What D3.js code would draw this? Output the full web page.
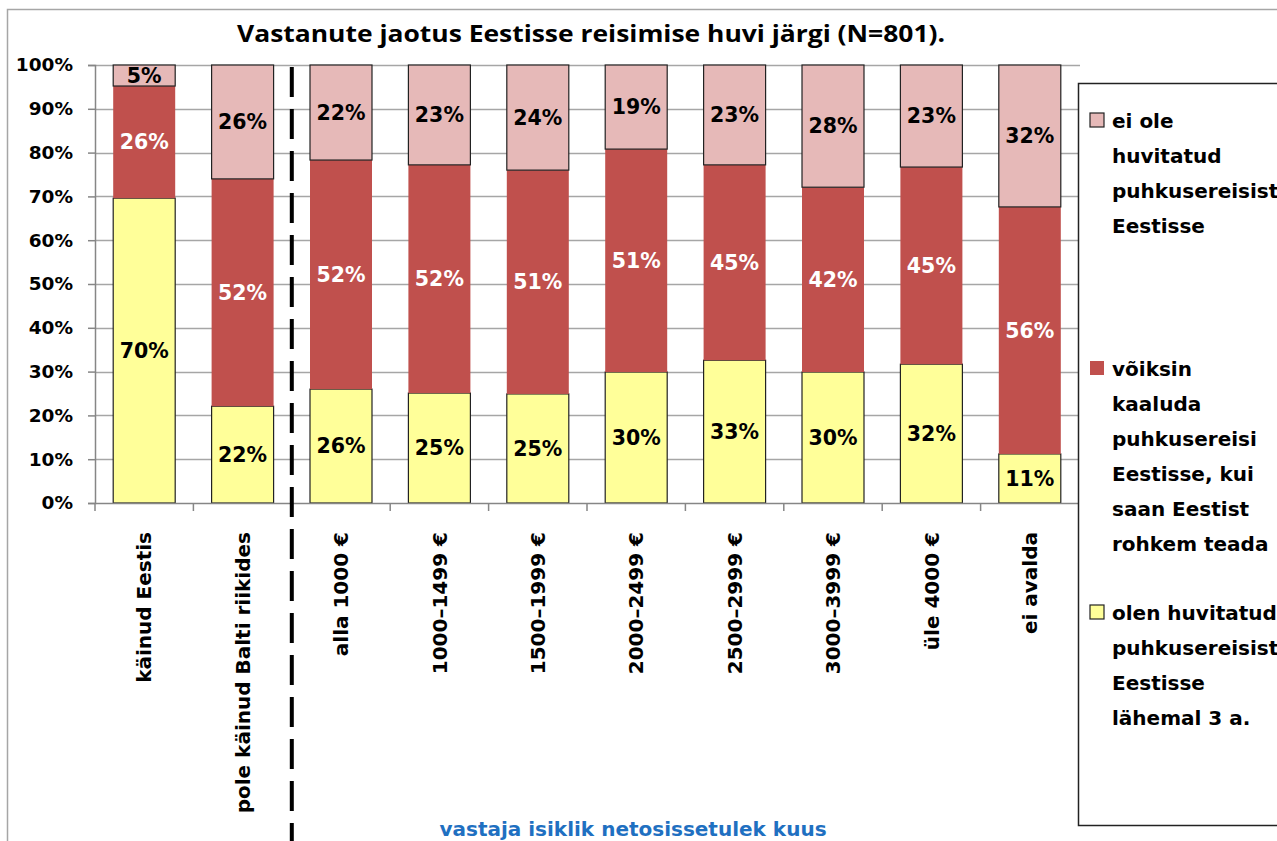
<!DOCTYPE html>
<html>
<meta charset="utf-8">
<head>
	<script src="https://d3js.org/d3.v7.min.js"></script>
	<style>
		body { margin: 0; background: #fff; }
		text { font-family: "DejaVu Sans", Verdana, sans-serif; font-weight: bold; }
	</style>
</head>
<body>
<script>
	var categories = ["käinud Eestis", "pole käinud Balti riikides", "alla 1000 €", "1000–1499 €",
		"1500–1999 €", "2000–2499 €", "2500–2999 €", "3000–3999 €", "üle 4000 €", "ei avalda"];

	// bottom to top
	var huvitatud = [69.6, 22.1, 26.0, 25.1, 24.9, 29.9, 32.6, 29.9, 31.7, 11.2];
	var kaaluks   = [25.6, 51.9, 52.3, 52.1, 51.1, 50.9, 44.6, 42.2, 45.0, 56.4];
	var eiOle     = [4.8, 26.0, 21.7, 22.8, 24.0, 19.2, 22.8, 27.9, 23.3, 32.4];

	var legendLines = [
		["ei ole", "huvitatud", "puhkusereisist", "Eestisse"],
		["võiksin", "kaaluda", "puhkusereisi", "Eestisse, kui", "saan Eestist", "rohkem teada"],
		["olen huvitatud", "puhkusereisist", "Eestisse", "lähemal 3 a."]
	];
	var yTicks = [0, 10, 20, 30, 40, 50, 60, 70, 80, 90, 100];

	var colors = ["#FFFF99", "#C0504D", "#E6B9B8"];
	var labelColors = ["#000", "#fff", "#000"];

	var width = 1277, height = 841;
	var svg = d3.select("body").append("svg").attr("width", width).attr("height", height);

	// outer chart border
	svg.append("rect").attr("x", 7.5).attr("y", 9.5).attr("width", 1300).attr("height", 900)
		.attr("fill", "none").attr("stroke", "#a6a6a6").attr("stroke-width", 1.5);

	var x = d3.scaleBand().domain(categories).range([95, 1079]).paddingInner(0.37).paddingOuter(0.185);
	var y = d3.scaleLinear().domain([0, 100]).range([503, 65]);

	// gridlines
	svg.append("g").selectAll("line").data(yTicks.slice(1)).enter().append("line")
		.attr("x1", 95).attr("x2", 1080)
		.attr("y1", function(d) { return Math.round(y(d)) + 0.5; })
		.attr("y2", function(d) { return Math.round(y(d)) + 0.5; })
		.attr("stroke", "#a6a6a6").attr("stroke-width", 1.5);

	// stacked data
	var rows = categories.map(function(c, i) {
		return { cat: c, s0: huvitatud[i], s1: kaaluks[i], s2: eiOle[i] };
	});
	var stack = d3.stack().keys(["s0", "s1", "s2"])(rows);

	var layers = svg.append("g").selectAll("g").data(stack).enter().append("g");
	layers.selectAll("rect").data(function(d) { return d; }).enter().append("rect")
		.attr("x", function(d) { return x(d.data.cat); })
		.attr("width", x.bandwidth())
		.attr("y", function(d) { return y(d[1]); })
		.attr("height", function(d) { return y(d[0]) - y(d[1]); })
		.attr("fill", function() { return colors[d3.select(this.parentNode).datum().index]; })
		.attr("stroke", function() { return d3.select(this.parentNode).datum().index === 1 ? "none" : "#222"; })
		.attr("stroke-width", 1.2);

	layers.selectAll("text").data(function(d) { return d; }).enter().append("text")
		.attr("x", function(d) { return x(d.data.cat) + x.bandwidth() / 2; })
		.attr("y", function(d) { return (y(d[0]) + y(d[1])) / 2; })
		.attr("dy", "0.36em")
		.attr("text-anchor", "middle")
		.style("font-size", "20.5px")
		.attr("fill", function() { return labelColors[d3.select(this.parentNode).datum().index]; })
		.text(function(d) { return Math.round(d[1] - d[0]) + "%"; });

	// y axis
	var yAxis = svg.append("g").attr("transform", "translate(95,0)")
		.call(d3.axisLeft(y).tickValues(yTicks).tickSize(7).tickFormat(function(d) { return d + "%"; }));
	yAxis.select(".domain").attr("stroke", "#868686").attr("stroke-width", 1.5);
	yAxis.selectAll(".tick line").attr("stroke", "#868686").attr("stroke-width", 1.5);
	yAxis.selectAll(".tick text").attr("x", -22).style("font-size", "18.5px").attr("fill", "#000");

	// x axis
	var xAxis = svg.append("g").attr("transform", "translate(0,503)")
		.call(d3.axisBottom(x).tickSize(0).tickPadding(0));
	xAxis.select(".domain").attr("stroke", "#868686").attr("stroke-width", 1.5);
	xAxis.selectAll(".tick text")
		.attr("transform", "rotate(-90)")
		.attr("x", -29).attr("y", 0).attr("dy", "0.36em")
		.attr("text-anchor", "end")
		.style("font-size", "20px").attr("fill", "#000");

	var step = x.step();
	svg.append("g").selectAll("line").data(d3.range(categories.length + 1)).enter().append("line")
		.attr("x1", function(i) { return 95 + i * step; })
		.attr("x2", function(i) { return 95 + i * step; })
		.attr("y1", 503).attr("y2", 511)
		.attr("stroke", "#868686").attr("stroke-width", 1.5);

	// dashed separator between groups
	var sepX = (x(categories[1]) + x.bandwidth() + x(categories[2])) / 2;
	svg.append("line").attr("x1", sepX).attr("x2", sepX).attr("y1", 67).attr("y2", 841)
		.attr("stroke", "#000").attr("stroke-width", 4).attr("stroke-dasharray", "30,12");

	// title
	svg.append("text").attr("x", 591).attr("y", 42).attr("text-anchor", "middle")
		.style("font-family", "'Open Sans', sans-serif").style("font-size", "24px")
		.attr("textLength", 708).attr("lengthAdjust", "spacingAndGlyphs")
		.text("Vastanute jaotus Eestisse reisimise huvi järgi (N=801).");

	// axis title
	svg.append("text").attr("x", 633).attr("y", 836).attr("text-anchor", "middle")
		.style("font-size", "20px").attr("fill", "#1f70c1")
		.text("vastaja isiklik netosissetulek kuus");

	// legend
	var legend = svg.append("g");
	legend.append("rect").attr("x", 1078.5).attr("y", 83.5).attr("width", 250).attr("height", 742)
		.attr("fill", "#fff").attr("stroke", "#222").attr("stroke-width", 1.5);
	var legendTop = [128, 376, 620];
	var legendOrder = [2, 1, 0];
	legendLines.forEach(function(lines, k) {
		var s = legendOrder[k];
		legend.append("rect").attr("x", 1090).attr("y", legendTop[k] - 15).attr("width", 14).attr("height", 14)
			.attr("fill", colors[s]).attr("stroke", s === 1 ? "none" : "#222").attr("stroke-width", 1.2);
		lines.forEach(function(l, j) {
			legend.append("text").attr("x", 1112).attr("y", legendTop[k] + j * 35)
				.style("font-size", "20px").attr("fill", "#000").text(l);
		});
	});
</script>
</body>
</html>
